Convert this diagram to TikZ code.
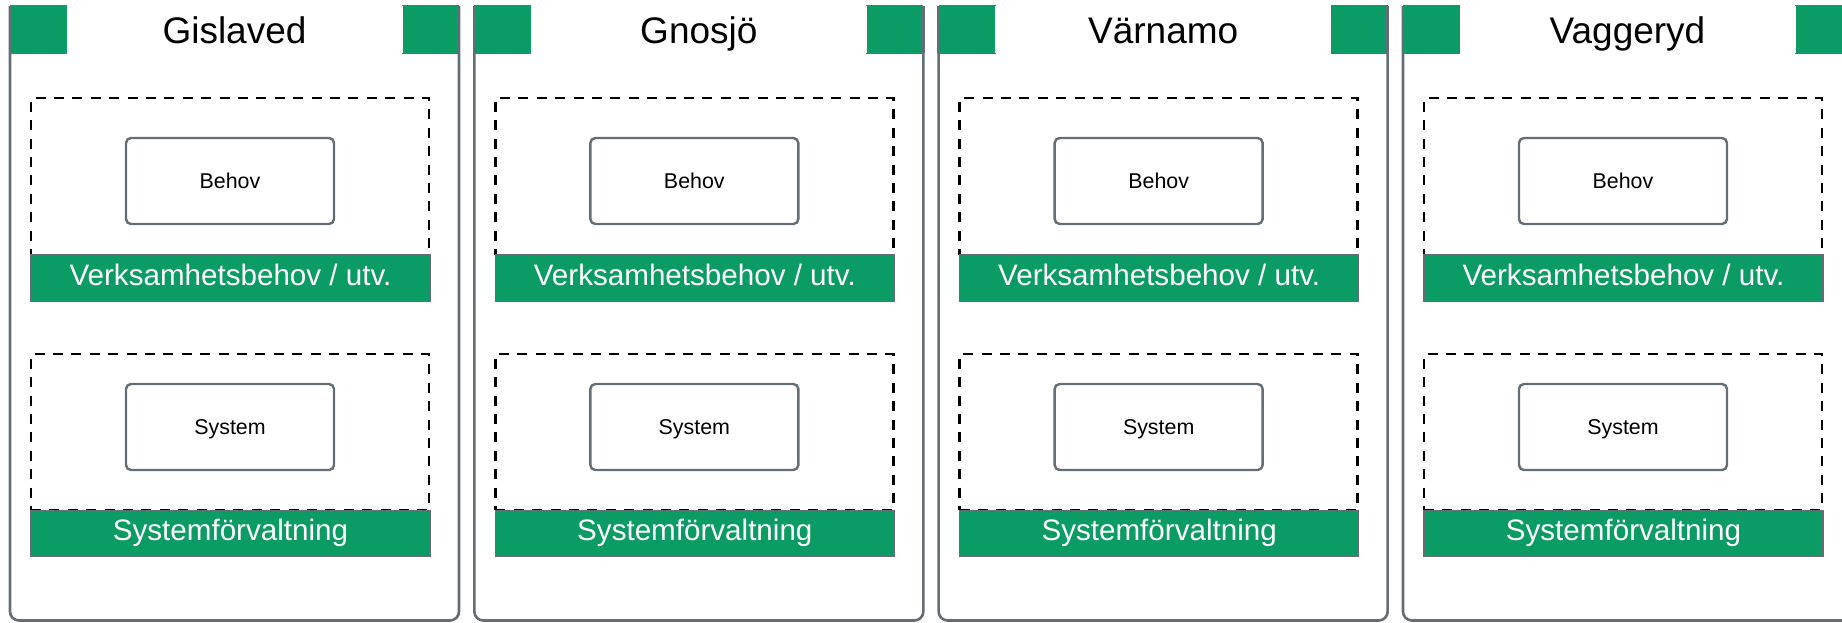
\documentclass[tikz,border=0pt]{standalone}
\usepackage{fontspec}
\setmainfont{Liberation Sans}
\definecolor{grn}{RGB}{11,155,100}
\definecolor{edge}{RGB}{100,108,118}
\begin{document}
\begin{tikzpicture}[x=0.5pt,y=-0.5pt,
  panelline/.style={draw=edge,line width=1.3pt,rounded corners=4.5pt},
  corner/.style={fill=grn,draw=none,minimum width=28pt,minimum height=23.5pt,inner sep=0pt},
  thinedge/.style={draw=edge,line width=0.6pt},
  dashbox/.style={draw=black,line width=1.3pt,dash pattern=on 5pt off 4.2pt,minimum width=199pt,inner sep=0pt},
  itembox/.style={draw=edge,line width=1.2pt,rounded corners=2.5pt,fill=white,minimum width=104pt,minimum height=43pt,inner sep=0pt,text height=0.716em,text depth=0pt,font=\fontsize{10.7}{12}\selectfont,text=black},
  greenbar/.style={draw=edge,line width=0.7pt,fill=grn,minimum width=199.5pt,minimum height=23.25pt,inner sep=0pt,text height=0.716em,text depth=0pt,text=white,font=\fontsize{14.8}{17}\selectfont},
  titletext/.style={font=\fontsize{18.5}{22}\selectfont,text=black,inner sep=0pt,anchor=base}]
\useasboundingbox (0,0) rectangle (1842,622);
\clip (0,0) rectangle (1842,622);
\foreach \i/\name in {0/Gislaved,1/Gnosjö,2/Värnamo,3/Vaggeryd}{
  \pgfmathsetmacro{\xo}{10+464.33*\i}
  % panel outline (open at top)
  \draw[panelline] (\xo,6) -- (\xo,620.5) -- (\xo+449,620.5) -- (\xo+449,6);
  % green corner squares
  \node[corner] (sqL\i) at (\xo+28.5,29.5) {};
  \node[corner] (sqR\i) at (\xo+420.5,29.5) {};
  \draw[thinedge] (sqL\i.north west) -- (sqL\i.north east) (sqL\i.south west) -- (sqL\i.south east);
  \draw[thinedge] (sqR\i.north west) -- (sqR\i.north east) (sqR\i.south west) -- (sqR\i.south east);
  \draw[edge,line width=1.3pt] (\xo,6) -- (\xo,53) (\xo+449,6) -- (\xo+449,53);
  % title
  \node[titletext] (title\i) at (\xo+224.5,43.5) {\name};
  % upper group
  \node[dashbox,minimum height=78.5pt] (dashA\i) at (\xo+220,176.5) {};
  \node[itembox] (behov\i) at (\xo+220,181) {Behov};
  \node[greenbar] (barA\i) at (\xo+220.5,278) {Verksamhetsbehov / utv.};
  % lower group
  \node[dashbox,minimum height=78pt] (dashB\i) at (\xo+220,432) {};
  \node[itembox] (system\i) at (\xo+220,427) {System};
  \node[greenbar] (barB\i) at (\xo+220.5,533.5) {Systemförvaltning};
}
\end{tikzpicture}
\end{document}
